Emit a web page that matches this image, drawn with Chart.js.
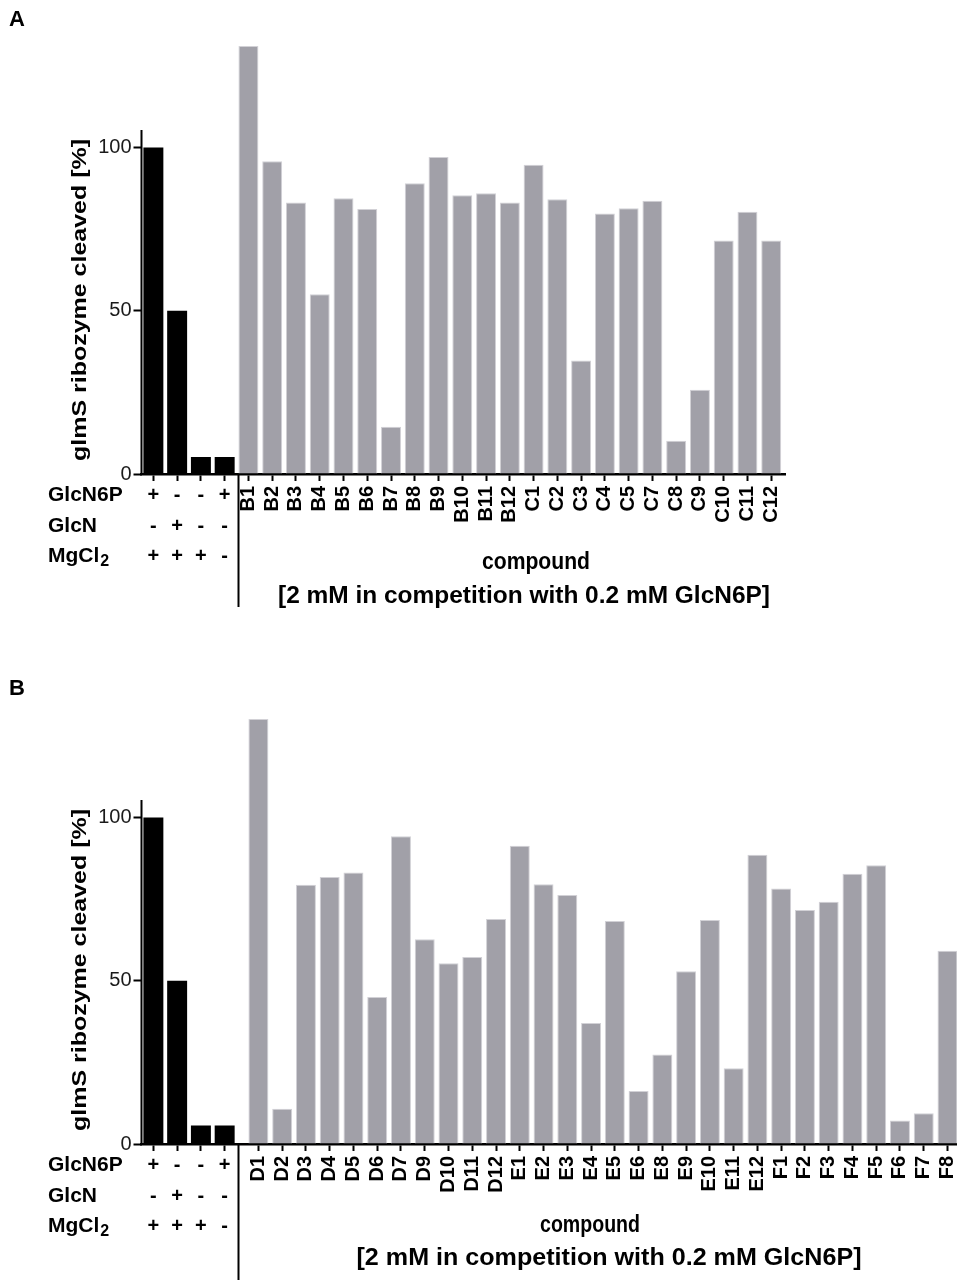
<!DOCTYPE html>
<html>
<head>
<meta charset="utf-8">
<script src="https://cdn.jsdelivr.net/npm/chart.js@4.4.1/dist/chart.umd.min.js"></script>
<style>
  html, body { margin: 0; padding: 0; background: #fff; }
  canvas { display: block; }
</style>
</head>
<body>
<canvas id="chartA" width="957" height="640"></canvas>
<canvas id="chartB" width="957" height="640"></canvas>
<script>
// control lanes (black bars)
const rowNames = ['GlcN6P', 'GlcN', 'MgCl'];
const glcn6pRow = ['+', '-', '-', '+'];
const glcnRow = ['-', '+', '-', '-'];
const mgcl2Row = ['+', '+', '+', '-'];
const controlsA = [100, 50, 5.2, 5.2];
const controlsB = [100, 50, 5.7, 5.7];

// panel A compounds
const compoundsA = ['B1', 'B2', 'B3', 'B4', 'B5', 'B6', 'B7', 'B8', 'B9', 'B10', 'B11', 'B12',
  'C1', 'C2', 'C3', 'C4', 'C5', 'C7', 'C8', 'C9', 'C10', 'C11', 'C12'];
const valuesA = [131.1, 95.8, 83.2, 55.1, 84.5, 81.2, 14.5, 89.1, 97.1, 85.4, 86.0, 83.2,
  94.7, 84.2, 34.8, 79.8, 81.4, 83.7, 10.2, 25.8, 71.5, 80.3, 71.5];

// panel B compounds
const compoundsB = ['D1', 'D2', 'D3', 'D4', 'D5', 'D6', 'D7', 'D9', 'D10', 'D11', 'D12',
  'E1', 'E2', 'E3', 'E4', 'E5', 'E6', 'E8', 'E9', 'E10', 'E11', 'E12',
  'F1', 'F2', 'F3', 'F4', 'F5', 'F6', 'F7', 'F8'];
const valuesB = [130.2, 10.8, 79.4, 81.8, 83.2, 45.0, 94.3, 62.7, 55.4, 57.3, 68.9,
  91.4, 79.6, 76.3, 37.1, 68.3, 16.2, 27.4, 52.9, 68.6, 23.2, 88.6,
  78.3, 71.7, 74.2, 82.8, 85.4, 7.2, 9.4, 59.2];

const yTicks = [0, 50, 100];
const yTitle = 'glmS ribozyme cleaved [%]';
const xTitle1 = 'compound';
const xTitle2 = '[2 mM in competition with 0.2 mM GlcN6P]';

const FONT = "'Liberation Sans', Arial, Helvetica, sans-serif";
const GREY = '#a1a0a8';

// draw text squeezed/stretched to a given width
function fitText(ctx, text, cx, cy, width) {
  const w = ctx.measureText(text).width;
  ctx.save();
  ctx.translate(cx, cy);
  ctx.scale(width / w, 1);
  ctx.fillText(text, 0, 0);
  ctx.restore();
}

function makeChart(id, p) {
  const nC = p.controls.length;
  const xs = p.controls.map((v, i) => i).concat(p.values.map((v, i) => i + nC + p.gap));
  const labels = p.controls.map(() => '').concat(p.compounds);

  const decor = {
    id: 'decor',
    afterDraw(chart) {
      const ctx = chart.ctx;
      const x = chart.scales.x, y = chart.scales.y;
      const base = y.getPixelForValue(0);
      ctx.save();
      ctx.strokeStyle = '#000';
      ctx.fillStyle = '#000';

      // y axis line, stops just above 100
      ctx.lineWidth = 2;
      ctx.beginPath();
      ctx.moveTo(chart.chartArea.left, base + 1);
      ctx.lineTo(chart.chartArea.left, y.getPixelForValue(105.4));
      ctx.stroke();

      // divider between controls and compounds
      const dx = Math.round(x.getPixelForValue(nC - 0.45)) + 0.5;
      ctx.beginPath();
      ctx.moveTo(dx, base);
      ctx.lineTo(dx, p.dividerEnd);
      ctx.stroke();

      // +/- table
      ctx.textBaseline = 'middle';
      const rowY = [21, 52, 82];
      [glcn6pRow, glcnRow, mgcl2Row].forEach((row, r) => {
        ctx.font = 'bold 21px ' + FONT;
        ctx.textAlign = 'left';
        ctx.fillText(rowNames[r], 48, base + rowY[r]);
        if (r === 2) {
          const w = ctx.measureText(rowNames[r]).width;
          ctx.font = 'bold 16px ' + FONT;
          ctx.fillText('2', 48 + w + 1, base + rowY[r] + 6);
        }
        ctx.font = 'bold 20px ' + FONT;
        ctx.textAlign = 'center';
        row.forEach((s, i) => ctx.fillText(s, x.getPixelForValue(i), base + rowY[r]));
      });

      // x title
      ctx.textAlign = 'center';
      ctx.font = 'bold 23px ' + FONT;
      fitText(ctx, xTitle1, p.title1X, base + p.title1, p.title1W);
      ctx.font = 'bold 24px ' + FONT;
      fitText(ctx, xTitle2, p.title2X, base + p.title2, p.title2W);

      // y title, stretched along the axis like the original
      ctx.font = 'bold 20px ' + FONT;
      const tw = ctx.measureText(yTitle).width;
      ctx.translate(80, base - 174);
      ctx.rotate(-Math.PI / 2);
      ctx.scale(322 / tw, 1);
      ctx.fillText(yTitle, 0, 0);
      ctx.setTransform(1, 0, 0, 1, 0, 0);

      // panel letter
      ctx.font = 'bold 22px ' + FONT;
      ctx.textAlign = 'left';
      ctx.textBaseline = 'top';
      ctx.fillText(p.letter, 9, p.letterY);
      ctx.restore();
    }
  };

  return new Chart(document.getElementById(id), {
    type: 'bar',
    data: {
      datasets: [
        {
          data: p.controls.map((v, i) => ({ x: xs[i], y: v })),
          backgroundColor: '#000',
          grouped: false,
          barPercentage: 0.84,
          categoryPercentage: 1
        },
        {
          data: p.values.map((v, i) => ({ x: xs[i + nC], y: v })),
          backgroundColor: GREY,
          borderColor: '#d2d1d6',
          borderWidth: 1,
          grouped: false,
          barPercentage: 0.84,
          categoryPercentage: 1
        }
      ]
    },
    options: {
      responsive: false,
      animation: false,
      layout: { padding: { left: 0, right: p.padRight, top: 0, bottom: 0 } },
      plugins: { legend: { display: false }, tooltip: { enabled: false } },
      scales: {
        x: {
          type: 'linear',
          offset: false,
          min: -0.5,
          max: p.xMax,
          afterBuildTicks: s => { s.ticks = xs.map(v => ({ value: v })); },
          afterFit: s => { s.height = p.xHeight; s.paddingLeft = 0; s.paddingRight = 0; },
          grid: { display: true, offset: false, drawOnChartArea: false, drawTicks: true, tickLength: 7, tickWidth: 2, tickColor: '#000' },
          border: { display: true, color: '#000', width: 2.5 },
          ticks: {
            autoSkip: false, minRotation: 90, maxRotation: 90, padding: 5, color: '#000',
            font: { family: FONT, size: 20, weight: 'bold' },
            callback: (v, i) => labels[i]
          }
        },
        y: {
          min: 0,
          max: p.yMax,
          afterBuildTicks: s => { s.ticks = yTicks.map(v => ({ value: v })); },
          afterFit: s => { s.width = 141.5; s.paddingTop = 0; s.paddingBottom = 0; },
          grid: { display: true, drawOnChartArea: false, drawTicks: true, tickLength: 8, tickWidth: 2, tickColor: '#000' },
          border: { display: false },
          ticks: { padding: 2, color: '#1a1a1a', font: { family: FONT, size: 20 } }
        }
      }
    },
    plugins: [decor]
  });
}

makeChart('chartA', {
  letter: 'A', letterY: 9, controls: controlsA, compounds: compoundsA, values: valuesA,
  gap: 0, xMax: 26.58, padRight: 172, yMax: 145.2, xHeight: 166,
  dividerEnd: 607, title1X: 536, title2X: 524, title1: 89, title2: 122, title1W: 108, title2W: 492
});
makeChart('chartB', {
  letter: 'B', letterY: 38, controls: controlsB, compounds: compoundsB, values: valuesB,
  gap: 0.42, xMax: 33.82, padRight: 0, yMax: 154.4, xHeight: 136,
  dividerEnd: 640, title1X: 590, title2X: 609, title1: 82, title2: 114, title1W: 100, title2W: 505
});
</script>
</body>
</html>
